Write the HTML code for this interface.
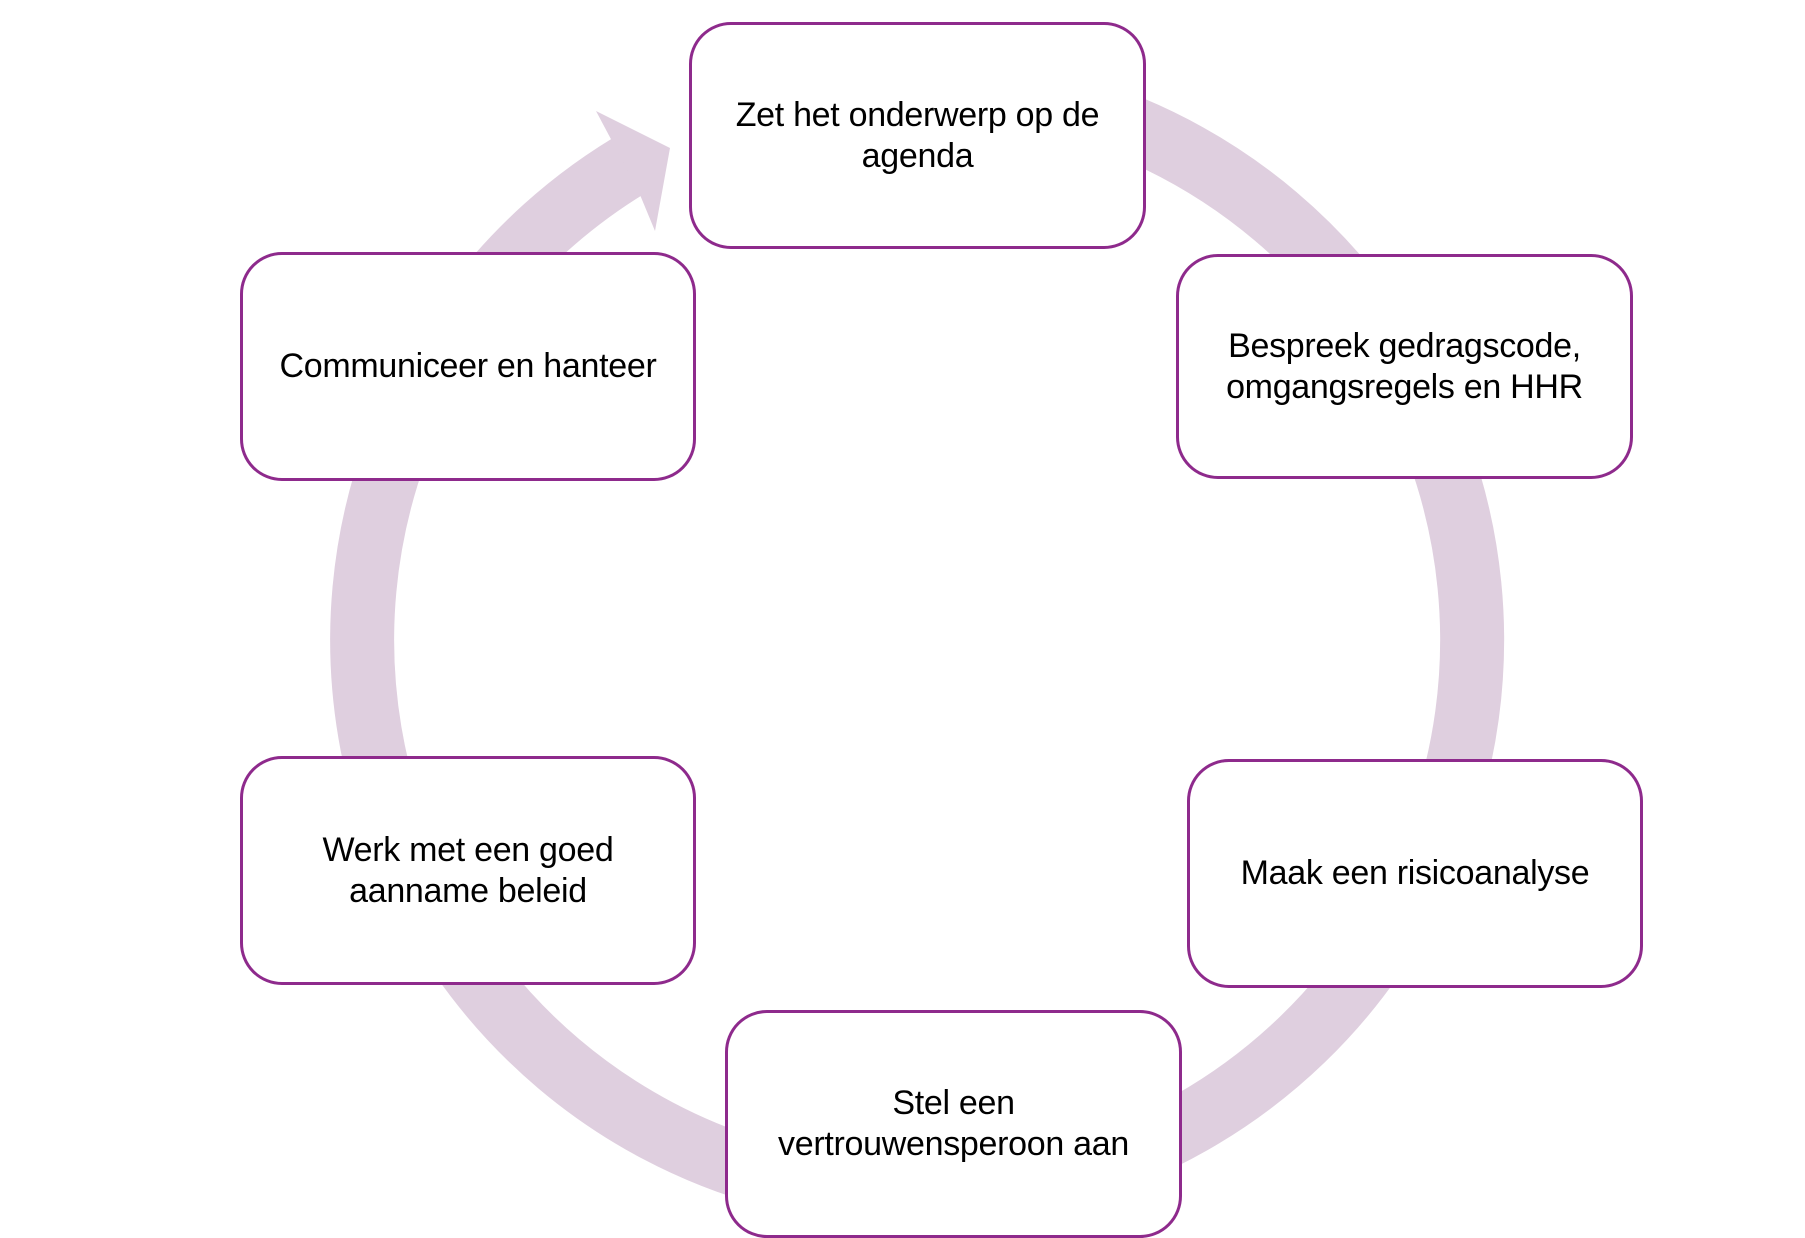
<!DOCTYPE html>
<html><head><meta charset="utf-8"><style>
html,body{margin:0;padding:0;background:#fff;}
body{width:1805px;height:1237px;position:relative;overflow:hidden;font-family:"Liberation Sans",sans-serif;}
.b{position:absolute;box-sizing:border-box;border:3.5px solid #8e2a8c;border-radius:42px;background:#fff;display:flex;align-items:center;justify-content:center;text-align:center;font-size:34px;line-height:41px;color:#000;padding:0 6px;white-space:nowrap;letter-spacing:-0.3px;}
</style></head><body>
<svg width="1805" height="1237" style="position:absolute;left:0;top:0">
<path d="M918 85 A555 555 0 1 1 642 158" fill="none" stroke="#dfcfdf" stroke-width="64"/>
<polygon points="596,111 670,148 655,231 638,190" fill="#dfcfdf"/>
</svg>
<div class="b" style="left:689px;top:22px;width:457px;height:227px">Zet het onderwerp op de<br>agenda</div>
<div class="b" style="left:1176px;top:254px;width:457px;height:225px">Bespreek gedragscode,<br>omgangsregels en HHR</div>
<div class="b" style="left:1187px;top:759px;width:456px;height:229px">Maak een risicoanalyse</div>
<div class="b" style="left:725px;top:1010px;width:457px;height:228px">Stel een<br>vertrouwensperoon aan</div>
<div class="b" style="left:240px;top:756px;width:456px;height:229px">Werk met een goed<br>aanname beleid</div>
<div class="b" style="left:240px;top:252px;width:456px;height:229px">Communiceer en hanteer</div>
</body></html>
